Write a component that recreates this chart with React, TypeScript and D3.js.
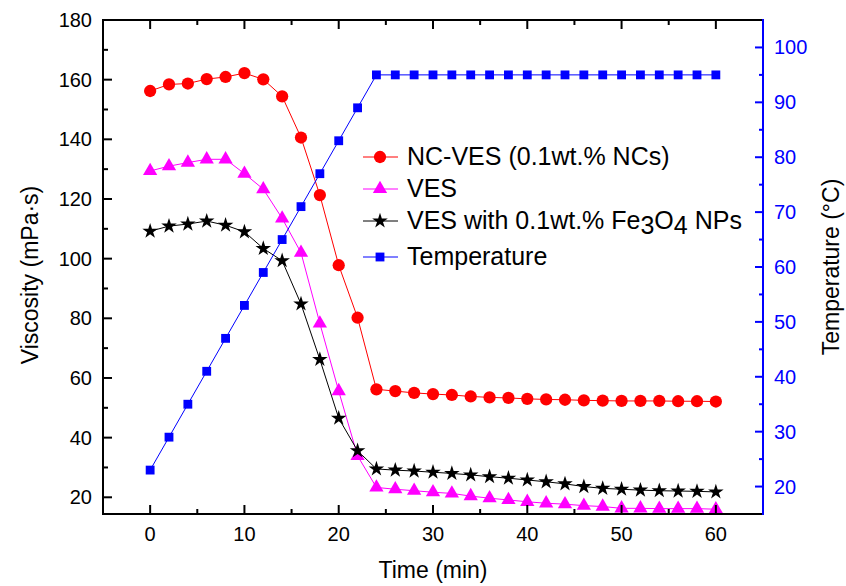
import React from "react";
import * as d3 from "d3";

const times = [0, 2, 4, 6, 8, 10, 12, 14, 16, 18, 20, 22, 24, 26, 28, 30, 32, 34, 36, 38, 40, 42, 44, 46, 48, 50, 52, 54, 56, 58, 60];
const ncVes = [156.2, 158.4, 158.7, 160.2, 160.9, 162.2, 160.1, 154.4, 140.6, 121.3, 97.8, 80.2, 56.2, 55.6, 55.0, 54.6, 54.3, 53.8, 53.5, 53.3, 53.0, 52.8, 52.7, 52.5, 52.4, 52.3, 52.3, 52.3, 52.2, 52.2, 52.1];
const ves = [129.4, 131.0, 132.2, 133.3, 133.3, 128.5, 123.3, 113.5, 102.0, 78.3, 55.6, 33.9, 23.3, 22.7, 22.2, 21.7, 21.3, 20.4, 19.7, 19.1, 18.5, 18.0, 17.7, 17.2, 16.9, 16.3, 16.3, 16.2, 16.2, 16.2, 16.0];
const vesFe = [109.2, 110.9, 111.6, 112.6, 111.2, 109.0, 103.4, 99.3, 84.8, 66.2, 46.5, 35.6, 29.5, 29.1, 28.8, 28.4, 28.0, 27.5, 26.9, 26.4, 25.8, 25.2, 24.5, 23.6, 23.0, 22.7, 22.4, 22.2, 22.1, 22.0, 21.8];
const temperature = [23, 29, 35, 41, 47, 53, 59, 65, 71, 77, 83, 89, 95, 95, 95, 95, 95, 95, 95, 95, 95, 95, 95, 95, 95, 95, 95, 95, 95, 95, 95];

const xTicks = [0, 10, 20, 30, 40, 50, 60];
const yLeftTicks = [20, 40, 60, 80, 100, 120, 140, 160, 180];
const yRightTicks = [20, 30, 40, 50, 60, 70, 80, 90, 100];

const W = 846, H = 586;
const L = 103, R = 763, T = 20, B = 514;
const FONT = "Arial, 'Liberation Sans', Helvetica, sans-serif";

export default function App() {
  const x = d3.scaleLinear().domain([-5, 65]).range([L, R]);
  const yL = d3.scaleLinear().domain([14.4, 180]).range([B, T]);
  const yR = d3.scaleLinear().domain([15, 105]).range([B, T]);

  const lineL = (vals: number[]) =>
    d3.line<number>().x((_, i) => x(times[i])).y((v) => yL(v))(vals) || "";
  const lineR = (vals: number[]) =>
    d3.line<number>().x((_, i) => x(times[i])).y((v) => yR(v))(vals) || "";

  const circle = d3.symbol().type(d3.symbolCircle).size(118)() || "";
  const tri = d3.symbol().type(d3.symbolTriangle).size(88)() || "";
  const star = d3.symbol().type(d3.symbolStar).size(75)() || "";
  const square = d3.symbol().type(d3.symbolSquare).size(78)() || "";

  const series = [
    { name: "nc", vals: ncVes, color: "#ff0000", path: circle, scale: yL },
    { name: "ves", vals: ves, color: "#ff00ff", path: tri, scale: yL },
    { name: "fe", vals: vesFe, color: "#000000", path: star, scale: yL },
    { name: "temp", vals: temperature, color: "#0000ff", path: square, scale: yR },
  ];

  const xMinor = d3.range(-5, 66, 5).filter((v) => v % 10 !== 0 && v > -5 && v < 65);
  const yLMinor = d3.range(30, 180, 20);
  const yRMinor = d3.range(25, 105, 10);

  const legend = [
    { color: "#ff0000", path: circle, y: 157, label: <>NC-VES (0.1wt.% NCs)</> },
    { color: "#ff00ff", path: tri, y: 189, label: <>VES</> },
    {
      color: "#000000", path: star, y: 221,
      label: (
        <>
          VES with 0.1wt.% Fe<tspan dy={5}>3</tspan>
          <tspan dy={-5}>O</tspan>
          <tspan dy={5}>4</tspan>
          <tspan dy={-5}> NPs</tspan>
        </>
      ),
    },
    { color: "#0000ff", path: square, y: 257, label: <>Temperature</> },
  ];

  return (
    <svg width={W} height={H} style={{ position: "absolute", left: 0, top: 0, background: "#fff" }} fontFamily={FONT}>
      <defs>
        <clipPath id="plotclip">
          <rect x={L} y={T} width={R - L} height={B - T} />
        </clipPath>
      </defs>

      {/* series */}
      <g clipPath="url(#plotclip)">
        {series.map((s) => (
          <path key={s.name + "l"} d={s.scale === yL ? lineL(s.vals) : lineR(s.vals)} fill="none" stroke={s.color} strokeWidth={1} />
        ))}
        {series.map((s) =>
          s.vals.map((v, i) => (
            <path key={s.name + i} d={s.path} transform={`translate(${x(times[i])},${s.scale(v)})`} fill={s.color} />
          ))
        )}
      </g>

      {/* frame */}
      <line x1={L} x2={R} y1={T} y2={T} stroke="#000" strokeWidth={2} />
      <line x1={L} x2={R} y1={B} y2={B} stroke="#000" strokeWidth={2} />
      <line x1={L} x2={L} y1={T - 1} y2={B + 1} stroke="#000" strokeWidth={2} />
      <line x1={R} x2={R} y1={T - 1} y2={B + 1} stroke="#0000ff" strokeWidth={2} />

      {/* bottom / top ticks */}
      {xTicks.map((t) => (
        <g key={"xt" + t}>
          <line x1={x(t)} x2={x(t)} y1={B} y2={B - 9} stroke="#000" strokeWidth={2} />
          <line x1={x(t)} x2={x(t)} y1={T} y2={T + 9} stroke="#000" strokeWidth={2} />
          <text x={x(t)} y={541} textAnchor="middle" fontSize={20} fill="#000">{t}</text>
        </g>
      ))}
      {xMinor.map((t) => (
        <g key={"xm" + t}>
          <line x1={x(t)} x2={x(t)} y1={B} y2={B - 5} stroke="#000" strokeWidth={2} />
          <line x1={x(t)} x2={x(t)} y1={T} y2={T + 5} stroke="#000" strokeWidth={2} />
        </g>
      ))}

      {/* left ticks */}
      {yLeftTicks.map((t) => (
        <g key={"yl" + t}>
          <line x1={L} x2={L + 9} y1={yL(t)} y2={yL(t)} stroke="#000" strokeWidth={2} />
          <text x={92} y={yL(t) + 7} textAnchor="end" fontSize={20} fill="#000">{t}</text>
        </g>
      ))}
      {yLMinor.map((t) => (
        <line key={"ylm" + t} x1={L} x2={L + 5} y1={yL(t)} y2={yL(t)} stroke="#000" strokeWidth={2} />
      ))}

      {/* right ticks */}
      {yRightTicks.map((t) => (
        <g key={"yr" + t}>
          <line x1={R} x2={R - 8} y1={yR(t)} y2={yR(t)} stroke="#0000ff" strokeWidth={2} />
          <text x={774} y={yR(t) + 7} textAnchor="start" fontSize={20} fill="#0000ff">{t}</text>
        </g>
      ))}
      {yRMinor.map((t) => (
        <line key={"yrm" + t} x1={R} x2={R - 4} y1={yR(t)} y2={yR(t)} stroke="#0000ff" strokeWidth={2} />
      ))}

      {/* axis titles */}
      <text x={433} y={578} textAnchor="middle" fontSize={23} fill="#000">Time (min)</text>
      <text transform={`translate(38,${(T + B) / 2 + 8}) rotate(-90)`} textAnchor="middle" fontSize={23} fill="#000">Viscosity (mPa·s)</text>
      <text transform={`translate(839,${(T + B) / 2}) rotate(-90)`} textAnchor="middle" fontSize={23} fill="#000">Temperature (°C)</text>

      {/* legend */}
      {legend.map((l, i) => (
        <g key={"lg" + i}>
          <line x1={363} x2={398} y1={l.y} y2={l.y} stroke={l.color} strokeWidth={1} />
          <path d={l.path} transform={`translate(380,${l.y})`} fill={l.color} />
          <text x={407} y={l.y + 8} fontSize={25} fill="#000">{l.label}</text>
        </g>
      ))}
    </svg>
  );
}
